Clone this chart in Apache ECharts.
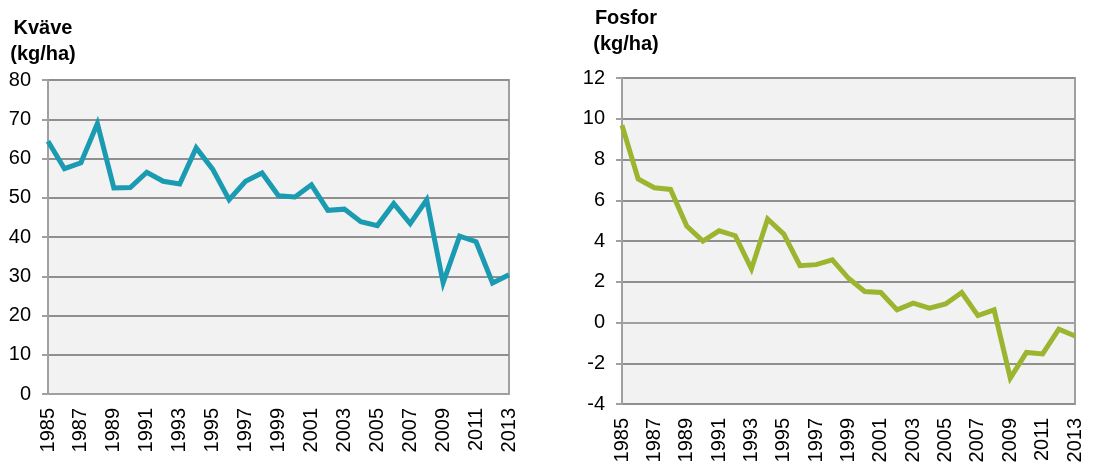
<!DOCTYPE html>
<html>
<head>
<meta charset="utf-8">
<script src="https://cdn.jsdelivr.net/npm/echarts@6/dist/echarts.min.js"></script>
<style>html,body{margin:0;padding:0;background:#fff}#c{width:1111px;height:466px}</style>
</head>
<body>
<div id="c"></div>
<script>
const years = [];
for (let y = 1985; y <= 2013; y++) years.push(String(y));
const kvave = [64.4,57.4,58.9,68.9,52.5,52.6,56.5,54.2,53.5,62.7,57.3,49.5,54.2,56.3,50.5,50.2,53.3,46.8,47.1,43.9,42.9,48.5,43.4,49.5,28.3,40.2,38.8,28.3,30.4];
const fosfor = [9.68,7.04,6.61,6.53,4.73,4.0,4.5,4.26,2.63,5.08,4.34,2.79,2.84,3.07,2.17,1.52,1.47,0.62,0.95,0.70,0.91,1.47,0.34,0.62,-2.73,-1.47,-1.54,-0.33,-0.66];
const titleLeft = ['Kväve', '(kg/ha)'];
const titleRight = ['Fosfor', '(kg/ha)'];

const FONT = 'Liberation Sans, Arial, sans-serif';
const chart = echarts.init(document.getElementById('c'));
function xAxis(gi) {
  return {
    type: 'category', gridIndex: gi, data: years, boundaryGap: false,
    axisLine: {lineStyle: {color: '#a0a0a0', width: 2}},
    axisTick: {show: false},
    axisLabel: {interval: 1, rotate: 90, color: '#000', fontSize: 20, fontFamily: FONT, margin: 14}
  };
}
function yAxis(gi, min, max, interval) {
  return {
    type: 'value', gridIndex: gi, min: min, max: max, interval: interval,
    axisLine: {show: true, lineStyle: {color: '#a0a0a0', width: 2}},
    axisTick: {show: true, length: 6, lineStyle: {color: '#a0a0a0', width: 2}},
    axisLabel: {color: '#000', fontSize: 20, fontFamily: FONT, margin: 17},
    splitLine: {show: true, lineStyle: {color: '#8f8f8f', width: 2}}
  };
}
function titleText(lines, cx, y0) {
  return lines.map((t, i) => ({
    type: 'text',
    x: cx, y: y0 + i * 26,
    style: {text: t, fill: '#000', font: 'bold 20px ' + FONT, textAlign: 'center', textVerticalAlign: 'top'}
  }));
}
chart.setOption({
  animation: false,
  grid: [
    {left: 48, right: 602, top: 80, bottom: 72, show: true, backgroundColor: '#f2f2f2', borderColor: '#a0a0a0', borderWidth: 2},
    {left: 622, right: 36, top: 78, bottom: 62, show: true, backgroundColor: '#f2f2f2', borderColor: '#a0a0a0', borderWidth: 2}
  ],
  xAxis: [xAxis(0), xAxis(1)],
  yAxis: [yAxis(0, 0, 80, 10), yAxis(1, -4, 12, 2)],
  series: [
    {type: 'line', xAxisIndex: 0, yAxisIndex: 0, data: kvave, showSymbol: false,
     lineStyle: {color: '#1a9bb1', width: 5, join: 'miter'}},
    {type: 'line', xAxisIndex: 1, yAxisIndex: 1, data: fosfor, showSymbol: false,
     lineStyle: {color: '#9bb530', width: 5, join: 'miter'}}
  ],
  graphic: [].concat(titleText(titleLeft, 43, 18), titleText(titleRight, 626, 8))
});
</script>
</body>
</html>
